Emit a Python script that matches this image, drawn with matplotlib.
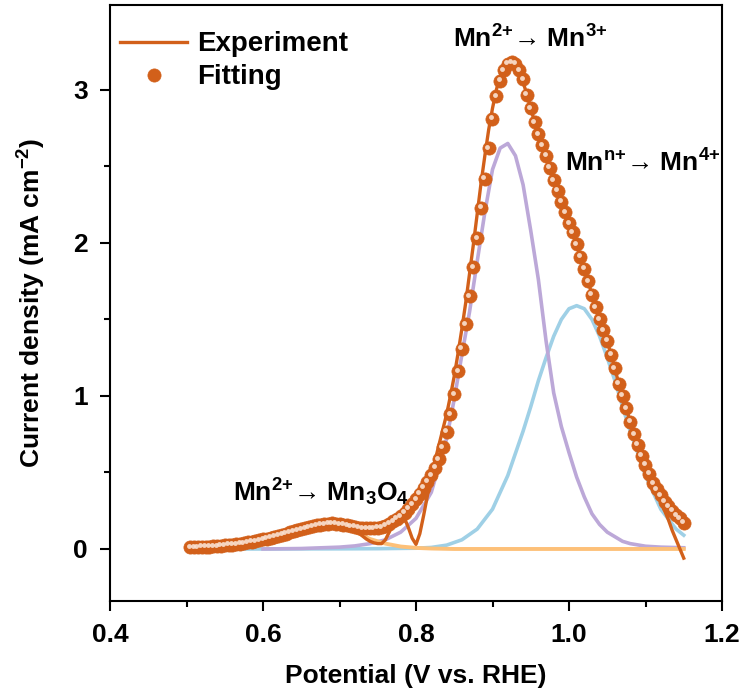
import numpy as np
import matplotlib

matplotlib.use("Agg")
import matplotlib.pyplot as plt
from matplotlib.transforms import offset_copy

# sampled potential grid (V vs. RHE) for experiment and fitting envelope
potential = np.linspace(0.505, 1.150, 130)

fitting = [
    0.010, 0.011, 0.012, 0.013, 0.014, 0.015, 0.017, 0.019, 0.021, 0.023,
    0.026, 0.029, 0.032, 0.035, 0.039, 0.043, 0.047, 0.052, 0.057, 0.062,
    0.068, 0.074, 0.080, 0.087, 0.094, 0.101, 0.108, 0.115, 0.122, 0.129,
    0.136, 0.142, 0.148, 0.154, 0.159, 0.163, 0.166, 0.167, 0.166, 0.163,
    0.159, 0.154, 0.149, 0.144, 0.140, 0.137, 0.135, 0.134, 0.135, 0.138,
    0.143, 0.152, 0.165, 0.180, 0.197, 0.215, 0.237, 0.262, 0.292, 0.325,
    0.362, 0.400, 0.440, 0.482, 0.530, 0.585, 0.665, 0.765, 0.880, 1.010,
    1.160, 1.310, 1.470, 1.650, 1.840, 2.030, 2.230, 2.420, 2.620, 2.810,
    2.960, 3.060, 3.130, 3.170, 3.180, 3.170, 3.130, 3.070, 2.970, 2.880,
    2.790, 2.710, 2.640, 2.570, 2.490, 2.410, 2.340, 2.270, 2.200, 2.130,
    2.070, 1.990, 1.910, 1.830, 1.750, 1.660, 1.580, 1.500, 1.430, 1.360,
    1.270, 1.180, 1.080, 1.000, 0.920, 0.830, 0.750, 0.680, 0.610, 0.550,
    0.490, 0.430, 0.390, 0.350, 0.310, 0.280, 0.250, 0.220, 0.200, 0.170,
]

experiment = [
    0.010, 0.011, 0.012, 0.013, 0.014, 0.015, 0.017, 0.019, 0.021, 0.023,
    0.026, 0.029, 0.032, 0.035, 0.039, 0.043, 0.047, 0.052, 0.057, 0.062,
    0.068, 0.074, 0.080, 0.087, 0.094, 0.101, 0.108, 0.115, 0.122, 0.129,
    0.136, 0.142, 0.148, 0.154, 0.159, 0.163, 0.166, 0.167, 0.166, 0.163,
    0.159, 0.154, 0.149, 0.130, 0.105, 0.085, 0.065, 0.050, 0.040, 0.035,
    0.035, 0.060, 0.110, 0.160, 0.190, 0.210, 0.200, 0.140, 0.070, 0.030,
    0.100, 0.220, 0.350, 0.480, 0.580, 0.680, 0.780, 0.880, 1.000, 1.130,
    1.280, 1.440, 1.610, 1.800, 1.990, 2.190, 2.390, 2.570, 2.740, 2.880,
    3.000, 3.090, 3.140, 3.165, 3.170, 3.150, 3.110, 3.050, 2.970, 2.880,
    2.790, 2.710, 2.640, 2.570, 2.490, 2.410, 2.340, 2.270, 2.200, 2.130,
    2.070, 1.990, 1.910, 1.830, 1.750, 1.660, 1.580, 1.500, 1.430, 1.360,
    1.270, 1.180, 1.080, 1.000, 0.920, 0.830, 0.750, 0.680, 0.610, 0.550,
    0.490, 0.430, 0.390, 0.310, 0.250, 0.190, 0.120, 0.060, 0.000, -0.060,
]

# fitted components
mn3o4_v = [0.505, 0.55, 0.58, 0.60, 0.62, 0.64, 0.66, 0.68, 0.70, 0.72,
           0.74, 0.76, 0.78, 0.80, 0.82, 0.85, 0.90, 1.00, 1.15]
mn3o4_i = [0.003, 0.012, 0.030, 0.045, 0.070, 0.100, 0.130, 0.152, 0.148, 0.115,
           0.065, 0.035, 0.016, 0.007, 0.003, 0.0, 0.0, 0.0, 0.0]

mn3_v = [0.60, 0.65, 0.70, 0.72, 0.74, 0.76, 0.78, 0.80, 0.82, 0.84, 0.85, 0.86,
         0.87, 0.88, 0.89, 0.90, 0.91, 0.92, 0.93, 0.94, 0.95, 0.96, 0.97, 0.98,
         0.99, 1.00, 1.01, 1.02, 1.03, 1.04, 1.05, 1.06, 1.07, 1.08, 1.10, 1.12, 1.15]
mn3_i = [0.0, 0.003, 0.012, 0.020, 0.035, 0.060, 0.110, 0.200, 0.370, 0.720, 0.980, 1.270,
         1.550, 1.880, 2.200, 2.480, 2.620, 2.650, 2.570, 2.380, 2.080, 1.760, 1.360, 1.020,
         0.800, 0.630, 0.470, 0.340, 0.230, 0.160, 0.110, 0.080, 0.050, 0.035, 0.018, 0.012, 0.008]

mn4_v = [0.505, 0.60, 0.70, 0.75, 0.80, 0.82, 0.84, 0.86, 0.88, 0.90, 0.92, 0.94, 0.95,
         0.96, 0.97, 0.98, 0.99, 1.00, 1.01, 1.02, 1.03, 1.04, 1.05, 1.06, 1.07, 1.08,
         1.10, 1.12, 1.14, 1.15]
mn4_i = [0.0, 0.0, 0.001, 0.002, 0.005, 0.010, 0.025, 0.060, 0.130, 0.260, 0.480, 0.770, 0.930,
         1.100, 1.250, 1.390, 1.500, 1.570, 1.590, 1.570, 1.500, 1.390, 1.250, 1.100, 0.930, 0.770,
         0.480, 0.260, 0.130, 0.090]

DARK = "#D2601A"
PURPLE = "#BCA8D8"
BLUE = "#9FD0E6"
LIGHT = "#FDC078"

plt.rcParams["font.family"] = ["Liberation Sans", "DejaVu Sans"]
plt.rcParams["font.weight"] = "bold"
plt.rcParams["mathtext.fontset"] = "custom"
plt.rcParams["mathtext.rm"] = "Liberation Sans:bold"
plt.rcParams["mathtext.it"] = "Liberation Sans:bold"
plt.rcParams["mathtext.bf"] = "Liberation Sans:bold"

fig = plt.figure(figsize=(7.46, 6.89), dpi=100)
ax = fig.add_axes([110 / 746, 1 - 601 / 689, 612 / 746, 596 / 689])

ax.plot(mn4_v, mn4_i, color=BLUE, lw=2.6, zorder=2)
ax.plot(mn3_v, mn3_i, color=PURPLE, lw=2.6, zorder=3)
ax.plot(mn3o4_v, mn3o4_i, color=LIGHT, lw=2.8, zorder=4)
ax.plot(potential, experiment, color=DARK, lw=2.4, zorder=5, label="Experiment")
ax.plot(potential, fitting, ls="none", marker="o", ms=9.5, mfc=DARK, mec=DARK,
        mew=0.5, zorder=6, label="Fitting")
# small highlight to give the dots a glossy look
hl = offset_copy(ax.transData, fig=fig, x=-1.5, y=1.5, units="dots")
ax.plot(potential, fitting, ls="none", marker="o", ms=3.5, mfc="#FAE2D2", mec="none",
        alpha=0.9, transform=hl, zorder=7)

ax.set_xlim(0.4, 1.2)
ax.set_ylim(-0.34, 3.555)
ax.set_xticks([0.4, 0.6, 0.8, 1.0, 1.2])
ax.set_xticks([0.5, 0.7, 0.9, 1.1], minor=True)
ax.set_yticks([0, 1, 2, 3])
ax.set_yticks([0.5, 1.5, 2.5], minor=True)
ax.set_xticklabels(["0.4", "0.6", "0.8", "1.0", "1.2"])
ax.tick_params(which="major", direction="out", length=7, width=1.5, labelsize=19, pad=9)
ax.tick_params(which="minor", direction="out", length=4, width=1.5)
for s in ax.spines.values():
    s.set_linewidth(1.5)

ax.set_xlabel("Potential (V vs. RHE)", fontsize=19, fontweight="bold", labelpad=12)
ax.set_ylabel("Current density (mA cm$^{-2}$)", fontsize=19, fontweight="bold", labelpad=18)

ax.text(0.949, 3.33, "Mn$^{2{+}}$→ Mn$^{3{+}}$", fontsize=19, ha="center", va="center")
ax.text(0.995, 2.52, "Mn$^{n{+}}$→ Mn$^{4{+}}$", fontsize=19, ha="left", va="center")
ax.text(0.676, 0.37, "Mn$^{2{+}}$→ Mn$_3$O$_4$", fontsize=19, ha="center", va="center")

ax.legend(loc="upper left", bbox_to_anchor=(0.008, 0.965), frameon=False, fontsize=20,
          handlelength=2.4, handletextpad=0.35, borderaxespad=0.0, labelspacing=0.25,
          borderpad=0.2)

fig.savefig("out.png", dpi=100)
